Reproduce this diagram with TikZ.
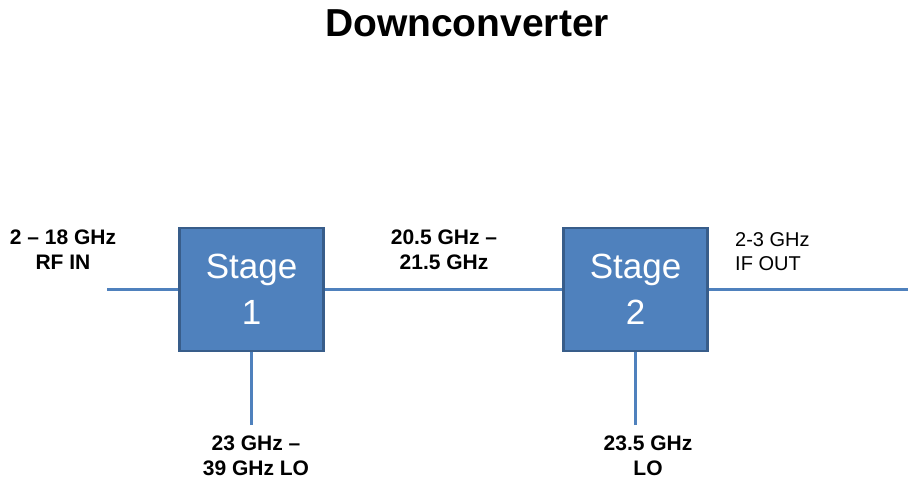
\documentclass[tikz,border=0pt]{standalone}
\usepackage{fontspec}
\setmainfont{Liberation Sans}
\usepackage{tikz}
\usetikzlibrary{positioning}
\definecolor{StageBlue}{HTML}{4F81BD}
\definecolor{StageEdge}{HTML}{385D8A}
\tikzset{
  stagebox/.style={draw=StageEdge, fill=StageBlue, line width=2.5pt, minimum width=144pt, minimum height=123pt, inner sep=0pt, align=center, text=white, font=\fontsize{35}{46}\selectfont},
  wire/.style={draw=StageBlue, line width=3pt},
  band/.style={align=center, inner sep=0pt, font=\fontsize{21}{25}\selectfont\bfseries},
  bandlight/.style={align=left, inner sep=0pt, font=\fontsize{20}{24}\selectfont}
}
\begin{document}
\begin{tikzpicture}[x=1pt, y={(0,-1pt)}]
\useasboundingbox (0,0) rectangle (908,481);
% title
\node[anchor=base, font=\fontsize{39}{46}\selectfont\bfseries] (title) at (467,37) {Downconverter};
% stages
\node[stagebox] (s1) at (251.5,289.5) {Stage\\1};
\node[stagebox] (s2) at (635.5,289.5) {Stage\\2};
\coordinate (rfin) at (107,289.5);
\coordinate (ifout) at (908,289.5);
\coordinate (lo1) at (251.5,425);
\coordinate (lo2) at (635.5,425);
\draw[wire] (rfin) -- (s1);
\draw[wire] (s1) -- (s2);
\draw[wire] (s2) -- (ifout);
\draw[wire] (lo1) -- (s1);
\draw[wire] (lo2) -- (s2);
% frequency labels
\node[band] (rflabel) at (63,250) {2 \textendash{} 18 GHz\\RF IN};
\node[band] (midlabel) at (444,250) {20.5 GHz \textendash\\21.5 GHz};
\node[bandlight, anchor=west] (iflabel) at (735,252) {2-3 GHz\\IF OUT};
\node[band] (lo1label) at (256,456) {23 GHz \textendash\\39 GHz LO};
\node[band] (lo2label) at (648,456) {23.5 GHz\\LO};
\end{tikzpicture}
\end{document}
